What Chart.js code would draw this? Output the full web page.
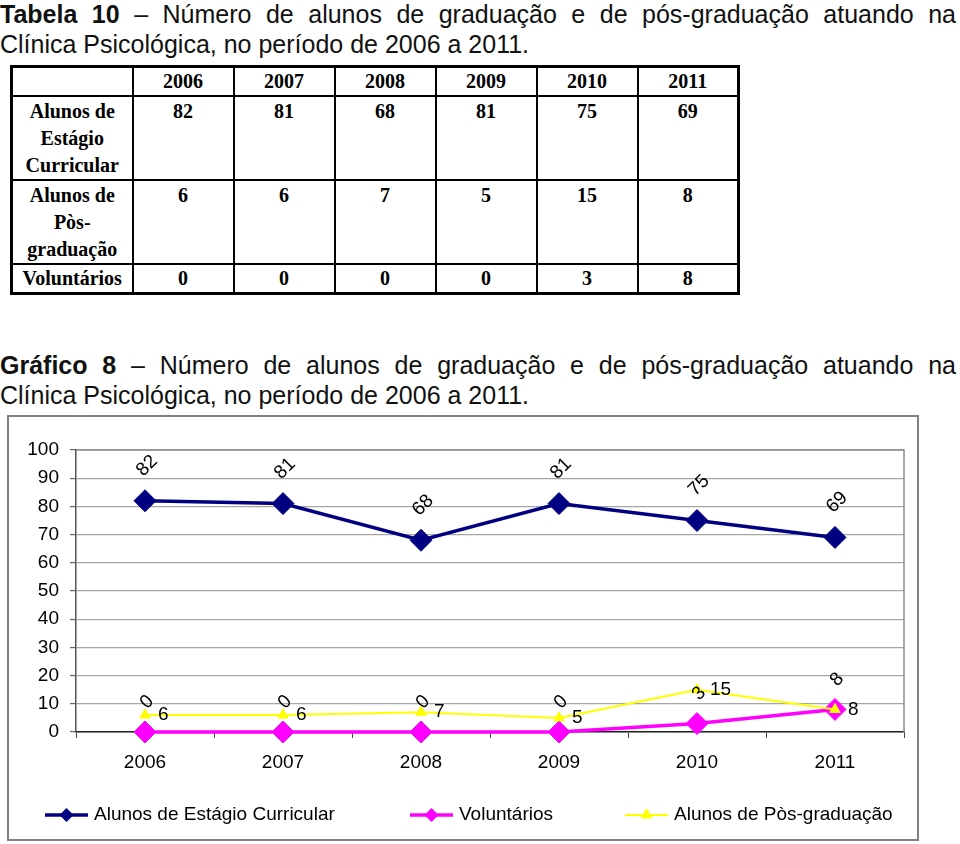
<!DOCTYPE html>
<html>
<head>
<meta charset="utf-8">
<script src="https://cdn.jsdelivr.net/npm/chart.js@4.4.1/dist/chart.umd.min.js"></script>
<style>
body { margin: 0; background: #fff; width: 960px; height: 844px; position: relative; overflow: hidden; font-family: "Liberation Sans", Arial, sans-serif; }
.cap { position: absolute; left: 0; width: 956px; font-size: 25px; line-height: 30px; color: #111; }
.cap .l1 { text-align: justify; text-align-last: justify; }
#tab { position: absolute; left: 10px; top: 65px; border-collapse: collapse; border: 3px solid #000; table-layout: fixed;
  font-family: "Liberation Serif", "Times New Roman", serif; font-weight: bold; font-size: 20px; color: #000; }
#tab td { border: 2px solid #000; text-align: center; vertical-align: top; padding: 1px 0 0 0; line-height: 27px; }
#tab tr.cab td { vertical-align: middle; padding: 0; }
#box { position: absolute; left: 7px; top: 415px; width: 908px; height: 422px; border: 2px solid #808080; }
#grafico { display: block; }
</style>
</head>
<body>
<div class="cap" style="top:-1px">
  <div class="l1"><b>Tabela 10</b> – Número de alunos de graduação e de pós-graduação atuando na</div>
  <div>Clínica Psicológica, no período de 2006 a 2011.</div>
</div>

<table id="tab"></table>

<div class="cap" style="top:350px">
  <div class="l1"><b>Gráfico 8</b> – Número de alunos de graduação e de pós-graduação atuando na</div>
  <div>Clínica Psicológica, no período de 2006 a 2011.</div>
</div>

<div id="box"><canvas id="grafico" width="908" height="422"></canvas></div>

<script>
const anos = ["2006", "2007", "2008", "2009", "2010", "2011"];
const estagio = [82, 81, 68, 81, 75, 69];
const posGraduacao = [6, 6, 7, 5, 15, 8];
const voluntarios = [0, 0, 0, 0, 3, 8];

const nomeEstagio = "Alunos de Estágio Curricular";
const nomeVoluntarios = "Voluntários";
const nomePos = "Alunos de Pòs-graduação";

// tabela (mesmos números do gráfico)
const tab = document.getElementById("tab");
const largCol = [121, 101, 101, 101, 101, 101, 101];
let html = "<colgroup>" + largCol.map(w => '<col style="width:' + w + 'px">').join("") + "</colgroup>";
html += '<tr class="cab" style="height:28px"><td></td>' + anos.map(a => "<td>" + a + "</td>").join("") + "</tr>";
html += '<tr style="height:84px"><td>Alunos de<br>Estágio<br>Curricular</td>' + estagio.map(v => "<td>" + v + "</td>").join("") + "</tr>";
html += '<tr style="height:82px"><td>Alunos de<br>Pòs-<br>graduação</td>' + posGraduacao.map(v => "<td>" + v + "</td>").join("") + "</tr>";
html += '<tr class="cab" style="height:28px"><td>Voluntários</td>' + voluntarios.map(v => "<td>" + v + "</td>").join("") + "</tr>";
tab.innerHTML = html;

const fonte = "'Liberation Sans', Arial, sans-serif";

// rótulos dos pontos
const rotulos = {
  id: "rotulos",
  afterDatasetsDraw(chart) {
    const ctx = chart.ctx;
    chart.data.datasets.forEach((ds, i) => {
      const meta = chart.getDatasetMeta(i);
      meta.data.forEach((pt, j) => {
        ctx.save();
        ctx.font = "19px " + fonte;
        ctx.fillStyle = "#000";
        ctx.textBaseline = "middle";
        if (ds.rotuloGirado) {
          ctx.translate(pt.x + 2, pt.y - ds.distRotulo);
          ctx.rotate(-Math.PI / 4);
          ctx.textAlign = "center";
          ctx.fillText(ds.data[j], 0, 0);
        } else {
          ctx.textAlign = "left";
          ctx.fillText(ds.data[j], pt.x + 13, pt.y);
        }
        ctx.restore();
      });
    });
  }
};

// borda da área de plotagem
const moldura = {
  id: "moldura",
  beforeDatasetsDraw(chart) {
    const a = chart.chartArea, ctx = chart.ctx;
    ctx.save();
    ctx.strokeStyle = "#8c8c8c";
    ctx.lineWidth = 1.5;
    ctx.beginPath();
    ctx.moveTo(a.left, a.top);
    ctx.lineTo(a.right, a.top);
    ctx.lineTo(a.right, a.bottom);
    ctx.stroke();
    ctx.restore();
  }
};

function marcador(ctx, estilo, x, y, r, cor) {
  ctx.fillStyle = cor;
  ctx.beginPath();
  if (estilo === "triangle") {
    ctx.moveTo(x, y - r);
    ctx.lineTo(x + r * 0.87, y + r * 0.5);
    ctx.lineTo(x - r * 0.87, y + r * 0.5);
  } else {
    ctx.moveTo(x, y - r);
    ctx.lineTo(x + r, y);
    ctx.lineTo(x, y + r);
    ctx.lineTo(x - r, y);
  }
  ctx.closePath();
  ctx.fill();
}

// legenda na ordem do Excel
const legenda = {
  id: "legenda",
  afterDraw(chart) {
    const ctx = chart.ctx;
    const posX = [36, 401, 616];
    const y = 398;
    chart.data.datasets.forEach((ds, i) => {
      const x = posX[i];
      ctx.save();
      ctx.strokeStyle = ds.borderColor;
      ctx.lineWidth = ds.borderWidth;
      ctx.beginPath();
      ctx.moveTo(x, y);
      ctx.lineTo(x + 43, y);
      ctx.stroke();
      marcador(ctx, ds.pointStyle, x + 21.5, y, 7, ds.pointBackgroundColor);
      ctx.font = "19px " + fonte;
      ctx.fillStyle = "#000";
      ctx.textAlign = "left";
      ctx.textBaseline = "middle";
      ctx.fillText(ds.label, x + 49, y);
      ctx.restore();
    });
  }
};

new Chart(document.getElementById("grafico"), {
  type: "line",
  plugins: [moldura, rotulos, legenda],
  data: {
    labels: anos,
    datasets: [
      {
        label: nomeEstagio, data: estagio, order: 2, clip: false,
        borderColor: "#000080", backgroundColor: "#000080", pointBackgroundColor: "#000080",
        borderWidth: 3.5, pointStyle: "rectRot", pointRadius: 11, pointBorderWidth: 1,
        rotuloGirado: true, distRotulo: 35
      },
      {
        label: nomeVoluntarios, data: voluntarios, order: 1, clip: false,
        borderColor: "#ff00ff", backgroundColor: "#ff00ff", pointBackgroundColor: "#ff00ff",
        borderWidth: 3.5, pointStyle: "rectRot", pointRadius: 11, pointBorderWidth: 1,
        rotuloGirado: true, distRotulo: 30
      },
      {
        label: nomePos, data: posGraduacao, order: 0, clip: false,
        borderColor: "#ffff00", backgroundColor: "#ffff00", pointBackgroundColor: "#ffff00",
        borderWidth: 2, pointStyle: "triangle", pointRadius: 6, pointBorderWidth: 1,
        rotuloGirado: false
      }
    ]
  },
  options: {
    responsive: false,
    devicePixelRatio: 1,
    animation: false,
    layout: { padding: { top: 33, right: 13, left: 0, bottom: 62 } },
    plugins: { legend: { display: false }, tooltip: { enabled: false } },
    scales: {
      x: {
        offset: true,
        afterFit: s => { s.height = 45; },
        border: { color: "#222", width: 1.5 },
        grid: { drawOnChartArea: false, offset: true, tickLength: 6, tickColor: "#444" },
        ticks: { color: "#000", font: { size: 19, family: fonte }, padding: 13, maxRotation: 0 }
      },
      y: {
        min: 0, max: 100,
        afterFit: s => { s.width = 67; },
        border: { color: "#555", width: 1.5 },
        grid: { color: "#a6a6a6", lineWidth: 1.2, tickLength: 6, tickColor: "#666" },
        ticks: { stepSize: 10, color: "#000", font: { size: 19, family: fonte }, padding: 11 }
      }
    }
  }
});
</script>
</body>
</html>
